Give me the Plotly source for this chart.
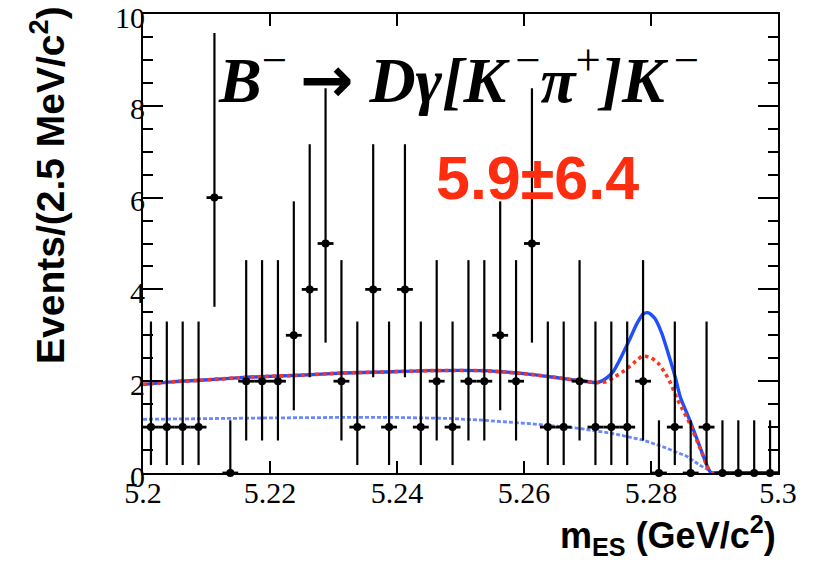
import plotly.graph_objects as go

# --- binned data: m_ES in 2.5 MeV/c^2 bins from 5.20 to 5.30 GeV/c^2 ---
bin_width = 0.0025
bin_centers = [5.2 + bin_width * (i + 0.5) for i in range(40)]
counts = [1, 1, 1, 1, 6, 0, 2, 2, 2, 3,
          4, 5, 2, 1, 4, 1, 4, 1, 2, 1,
          2, 2, 3, 2, 5, 1, 1, 2, 1, 1,
          1, 2, 0, 1, 0, 1, 0, 0, 0, 0]

# Poisson 68% interval bounds, indexed by observed count
poisson_low = [0.0, 0.173, 0.708, 1.367, 2.086, 2.840, 3.620]
poisson_high = [1.148, 3.300, 4.638, 5.918, 7.163, 8.382, 9.584]

# --- fitted curves ---
# common continuum shape (total and peaking-background overlap here)
cont_x = [5.2000, 5.2050, 5.2090, 5.2169, 5.2247, 5.2315, 5.2378, 5.2450,
          5.2535, 5.2604, 5.2650, 5.2688, 5.2715]
cont_y = [1.93, 1.99, 2.02, 2.09, 2.13, 2.18, 2.20, 2.23,
          2.23, 2.16, 2.08, 2.01, 1.97]

# total fit (signal + background) beyond the continuum
total_x = [5.2730, 5.2741, 5.2751, 5.2767, 5.2778, 5.2788, 5.2796, 5.2806,
           5.2817, 5.2827, 5.2838, 5.2846, 5.2861, 5.2877, 5.2890, 5.2895,
           5.2900, 5.3000]
total_y = [2.07, 2.22, 2.47, 2.93, 3.26, 3.47, 3.49, 3.37,
           3.04, 2.61, 2.10, 1.66, 1.15, 0.57, 0.10, 0.00,
           0.00, 0.00]

# background + peaking background beyond the continuum
peakbkg_x = [5.2730, 5.2741, 5.2757, 5.2773, 5.2786, 5.2799, 5.2812, 5.2823,
             5.2831, 5.2841, 5.2850, 5.2861, 5.2877, 5.2890, 5.2895, 5.2900,
             5.3000]
peakbkg_y = [1.99, 2.08, 2.22, 2.40, 2.54, 2.52, 2.38, 2.16,
             1.95, 1.62, 1.38, 1.08, 0.55, 0.10, 0.00, 0.00,
             0.00]

# combinatorial background
bkg_x = [5.2000, 5.2100, 5.2200, 5.2300, 5.2400, 5.2480, 5.2535, 5.2614,
         5.2688, 5.2740, 5.2787, 5.2825, 5.2857, 5.2877, 5.2890, 5.2895,
         5.3000]
bkg_y = [1.17, 1.19, 1.20, 1.21, 1.21, 1.19, 1.15, 1.07,
         0.97, 0.86, 0.72, 0.54, 0.36, 0.17, 0.07, 0.00,
         0.00]

x_tick_vals = [5.2, 5.22, 5.24, 5.26, 5.28, 5.3]
x_tick_text = ["5.2", "5.22", "5.24", "5.26", "5.28", "5.3"]
y_tick_vals = [0, 2, 4, 6, 8, 10]
y_tick_text = ["0", "2", "4", "6", "8", "10"]

signal_yield = "5.9±6.4"

err_plus = [poisson_high[n] - n for n in counts]
err_minus = [n - poisson_low[n] for n in counts]

fig = go.Figure()

fig.add_trace(go.Scatter(
    x=bkg_x, y=bkg_y, mode="lines",
    line=dict(color="#6a88ff", width=2.8, dash="4px,2px"),
    hoverinfo="skip", cliponaxis=False,
))

fig.add_trace(go.Scatter(
    x=cont_x + total_x, y=cont_y + total_y, mode="lines",
    line=dict(color="#1f4eff", width=3.4, shape="spline", smoothing=0.6),
    hoverinfo="skip", cliponaxis=False,
))

fig.add_trace(go.Scatter(
    x=cont_x + peakbkg_x, y=cont_y + peakbkg_y, mode="lines",
    line=dict(color="#ff3322", width=3.6, dash="dot",
              shape="spline", smoothing=0.6),
    hoverinfo="skip", cliponaxis=False,
))

fig.add_trace(go.Scatter(
    x=bin_centers, y=counts, mode="markers",
    marker=dict(color="black", size=8),
    error_y=dict(type="data", symmetric=False, array=err_plus,
                 arrayminus=err_minus, color="black", thickness=2.2, width=0),
    error_x=dict(type="constant", value=bin_width / 2, color="black",
                 thickness=2.8, width=0),
    cliponaxis=False,
))

tick_font = dict(family="Liberation Serif, Times New Roman, serif",
                 size=30, color="black")

axis_common = dict(
    showline=True, linecolor="black", linewidth=2, mirror="ticks",
    ticks="inside", tickcolor="black", tickwidth=2,
    showgrid=False, zeroline=False, ticklabeloverflow="allow",
    automargin=False,
)

fig.update_xaxes(
    range=[5.2, 5.3], tickmode="array",
    tickvals=x_tick_vals, ticktext=x_tick_text,
    ticklen=12, tickfont=tick_font, ticklabelstandoff=-8, **axis_common,
)
fig.update_yaxes(
    range=[0, 10], tickmode="array",
    tickvals=y_tick_vals, ticktext=y_tick_text,
    ticklen=20, tickfont=tick_font, ticklabelstandoff=-10,
    ticklabelshift=3,
    minor=dict(ticks="inside", ticklen=10, dtick=0.5, tickcolor="black",
               tickwidth=2, showgrid=False),
    **axis_common,
)

W, H = 826, 562
L, R, T, B = 143, 48, 14, 89
pw, ph = W - L - R, H - T - B


def px_to_paper(px, py):
    return (px - L) / pw, (H - B - py) / ph


annotations = []

thin = "\u2009"
arrow = '<span style="font-family:\'DejaVu Sans\'"><b>→</b></span>'

# decay channel label
ax, ay = px_to_paper(216, 76)
annotations.append(dict(
    x=ax, y=ay, xref="paper", yref="paper", xanchor="left", yanchor="middle",
    showarrow=False,
    text=("<b><i>B</i></b><sup>−</sup>" + thin + arrow +
          "<b><i> Dγ[K</i></b><sup>" + thin + "−</sup>"
          "<b><i>π</i></b><sup>+</sup><b><i>]K</i></b><sup>" + thin + "−</sup>"),
    font=dict(family="Liberation Serif", size=64, color="black"),
))

# fitted signal yield
ax, ay = px_to_paper(537, 178)
annotations.append(dict(
    x=ax, y=ay, xref="paper", yref="paper", xanchor="center", yanchor="middle",
    showarrow=False, text="<b>" + signal_yield + "</b>",
    font=dict(family="Liberation Sans", size=61, color="#ff2d0f"),
))

# y axis title
ax, ay = px_to_paper(47, 185)
annotations.append(dict(
    x=ax, y=ay, xref="paper", yref="paper", xanchor="center", yanchor="middle",
    showarrow=False, textangle=-90,
    text="<b>Events/(2.5 MeV/c<sup>2</sup>)</b>",
    font=dict(family="Liberation Sans", size=39, color="black"),
))

# x axis title
ax, ay = px_to_paper(668, 535)
annotations.append(dict(
    x=ax, y=ay, xref="paper", yref="paper", xanchor="center", yanchor="middle",
    showarrow=False,
    text="<b>m<sub>ES</sub> (GeV/c<sup>2</sup>)</b>",
    font=dict(family="Liberation Sans", size=36, color="black"),
))

fig.update_layout(
    width=W, height=H,
    margin=dict(l=L, r=R, t=T, b=B, pad=0, autoexpand=False),
    paper_bgcolor="white", plot_bgcolor="white",
    showlegend=False,
    font=dict(family="Liberation Serif"),
    annotations=annotations,
)

fig.write_html("out.html")
